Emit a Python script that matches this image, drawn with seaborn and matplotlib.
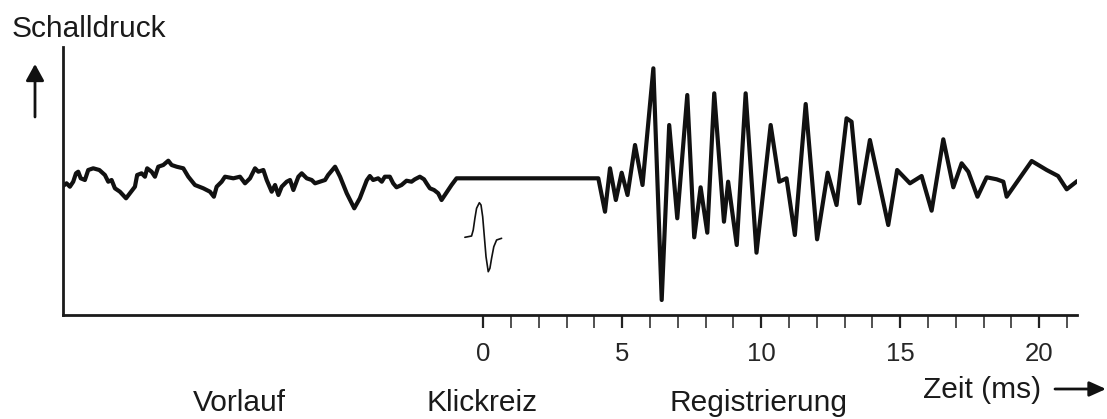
import numpy as np
import pandas as pd
import matplotlib
matplotlib.use("Agg")
import matplotlib.pyplot as plt
import seaborn as sns

# ---- data (time in ms, sound pressure in arbitrary units) ----
pre_ms = [-15.15, -14.99, -14.87, -14.75, -14.65, -14.57, -14.48, -14.33, -14.21, -14.03,
          -13.81, -13.61, -13.49, -13.37, -13.25, -13.07, -12.85, -12.71, -12.53, -12.45,
          -12.29, -12.17, -12.09, -11.93, -11.81, -11.69, -11.51, -11.33, -11.21, -11.03,
          -10.79, -10.61, -10.37, -10.07, -9.83, -9.69, -9.59, -9.41, -9.29, -8.99,
          -8.75, -8.57, -8.39, -8.21, -8.09, -7.91, -7.79, -7.61, -7.49, -7.37,
          -7.25, -7.07, -6.95, -6.83, -6.65, -6.53, -6.35, -6.17, -6.05, -5.87,
          -5.69, -5.58, -5.33, -5.15, -4.91, -4.64, -4.44, -4.19, -4.08, -3.96,
          -3.78, -3.65, -3.54, -3.36, -3.24, -3.12, -2.94, -2.76, -2.58, -2.46,
          -2.28, -2.13, -2.04, -1.92, -1.77, -1.62, -1.50, -1.38, -1.14, -0.96]
pre_val = [-8.4, -5.0, -8.4, -3.4, 5.0, 6.6, 0.0, -1.7, 8.3, 10.0,
           8.3, 3.3, -3.4, -1.7, -10.0, -13.4, -20.0, -15.0, -8.4, 3.3,
           5.0, 1.6, 10.0, 6.6, 1.6, 11.6, 13.3, 17.6, 13.3, 11.6,
           10.0, 1.6, -6.7, -10.0, -13.4, -18.4, -8.4, -3.4, 1.6, 0.0,
           1.6, -5.0, 0.0, 10.0, 6.6, 8.3, -1.7, -13.4, -6.7, -16.7,
           -8.4, -3.4, -1.7, -11.7, 1.6, 5.0, 0.0, -1.7, -5.0, -3.4,
           -1.7, 3.3, 11.6, 1.6, -15.0, -30.0, -20.0, -2.0, 2.3, -1.7,
           0.0, -3.4, 1.6, 1.6, -5.0, -9.0, -6.7, -2.4, -3.4, -1.0,
           1.6, -1.0, -5.0, -10.0, -11.7, -15.0, -21.7, -16.7, -6.7, 0.0]

resp_ms = [4.14, 4.38, 4.56, 4.77, 4.98, 5.19, 5.46, 5.73, 6.12, 6.42,
           6.69, 6.98, 7.34, 7.59, 7.82, 8.06, 8.31, 8.66, 8.81, 9.12,
           9.44, 9.83, 10.34, 10.65, 10.91, 11.21, 11.60, 12.01, 12.39, 12.71,
           13.07, 13.25, 13.53, 13.91, 14.57, 14.89, 15.35, 15.77, 16.13, 16.55,
           16.91, 17.21, 17.45, 17.78, 18.11, 18.47, 18.71, 18.83, 19.73, 20.27,
           20.68, 20.99, 21.37]
resp_val = [0.0, -33.4, 10.0, -21.7, 5.6, -16.7, 33.3, -6.7, 110.0, -121.7,
            53.3, -40.0, 83.3, -59.0, -9.0, -54.4, 85.0, -43.4, -3.4, -66.7,
            85.0, -74.4, 53.3, -3.4, 0.0, -56.7, 74.3, -61.0, 5.6, -26.7,
            60.0, 56.6, -25.0, 38.3, -46.7, 8.3, -5.0, 2.3, -32.4, 39.0,
            -9.0, 15.0, 6.6, -18.4, 1.0, -1.0, -3.4, -18.4, 17.3, 8.3,
            2.3, -11.0, -2.7]

click_ms = [-0.66, -0.42, -0.36, -0.30, -0.24, -0.14, -0.08, -0.02, 0.04, 0.10,
            0.18, 0.24, 0.30, 0.38, 0.48, 0.66]
click_val = [-59.0, -57.7, -51.7, -40.0, -30.0, -24.4, -26.7, -38.4, -58.4, -78.4,
             -93.4, -90.0, -80.0, -68.4, -61.7, -60.0]

major_ticks = [0, 5, 10, 15, 20]
minor_ticks = [1, 2, 3, 4, 6, 7, 8, 9, 11, 12, 13, 14, 16, 17, 18, 19, 21]
tick_labels = ["0", "5", "10", "15", "20"]

y_label = "Schalldruck"
x_label = "Zeit (ms)"
phase_labels = ["Vorlauf", "Klickreiz", "Registrierung"]

# ---- style ----
sns.set_theme(style="white")
plt.rcParams["font.family"] = ["Liberation Sans", "DejaVu Sans"]

fig = plt.figure(figsize=(11.07, 4.19), dpi=100)
ax = fig.add_axes([0.0566, 0.2482, 0.9729 - 0.0566, 0.8878 - 0.2482])

trace = pd.DataFrame({"t": pre_ms + resp_ms, "p": pre_val + resp_val})
click = pd.DataFrame({"t": click_ms, "p": click_val})

sns.lineplot(data=trace, x="t", y="p", ax=ax, color="#111111", linewidth=3.0,
             estimator=None, sort=False, solid_joinstyle="round",
             solid_capstyle="round")
sns.lineplot(data=click, x="t", y="p", ax=ax, color="#111111", linewidth=1.2,
             estimator=None, sort=False)

ax.set_xlim(-15.13, 21.36)
ax.set_ylim(-136.7, 131.3)
ax.set_xlabel("")
ax.set_ylabel("")
ax.set_yticks([])

for side in ["top", "right"]:
    ax.spines[side].set_visible(False)
for side in ["left", "bottom"]:
    ax.spines[side].set_color("#1a1a1a")
    ax.spines[side].set_linewidth(2.0)

ax.set_xticks(major_ticks)
ax.set_xticklabels(tick_labels)
ax.set_xticks(minor_ticks, minor=True)
ax.tick_params(axis="x", which="major", direction="out", length=9.5, width=1.6,
               color="#222222", labelsize=18.5, pad=10, bottom=True)
ax.tick_params(axis="x", which="minor", direction="out", length=9.5, width=1.1,
               color="#222222", bottom=True)

# ---- annotations ----
fig.text(12 / 1107, 1 - 37 / 419, y_label, fontsize=21.5, ha="left",
         va="baseline", color="#1a1a1a")
fig.text(239 / 1107, 1 - 411 / 419, phase_labels[0], fontsize=21.5, ha="center",
         va="baseline", color="#1a1a1a")
fig.text(482 / 1107, 1 - 411 / 419, phase_labels[1], fontsize=21.5, ha="center",
         va="baseline", color="#1a1a1a")
fig.text(759 / 1107, 1 - 411 / 419, phase_labels[2], fontsize=21.5, ha="center",
         va="baseline", color="#1a1a1a")
fig.text(923 / 1107, 1 - 398 / 419, x_label, fontsize=21.5, ha="left",
         va="baseline", color="#1a1a1a")

# up arrow (y axis)
fig.add_artist(matplotlib.patches.FancyArrowPatch(
    (35 / 1107, 1 - 117 / 419), (35 / 1107, 1 - 64 / 419),
    transform=fig.transFigure, arrowstyle="-|>,head_length=10,head_width=5.5",
    color="#111111", linewidth=2.0, shrinkA=0, shrinkB=0))
# right arrow (x axis)
fig.add_artist(matplotlib.patches.FancyArrowPatch(
    (1055 / 1107, 1 - 389 / 419), (1106 / 1107, 1 - 389 / 419),
    transform=fig.transFigure, arrowstyle="-|>,head_length=10,head_width=4.5",
    color="#111111", linewidth=2.0, shrinkA=0, shrinkB=0))

fig.savefig("out.png", dpi=100, facecolor="white")
